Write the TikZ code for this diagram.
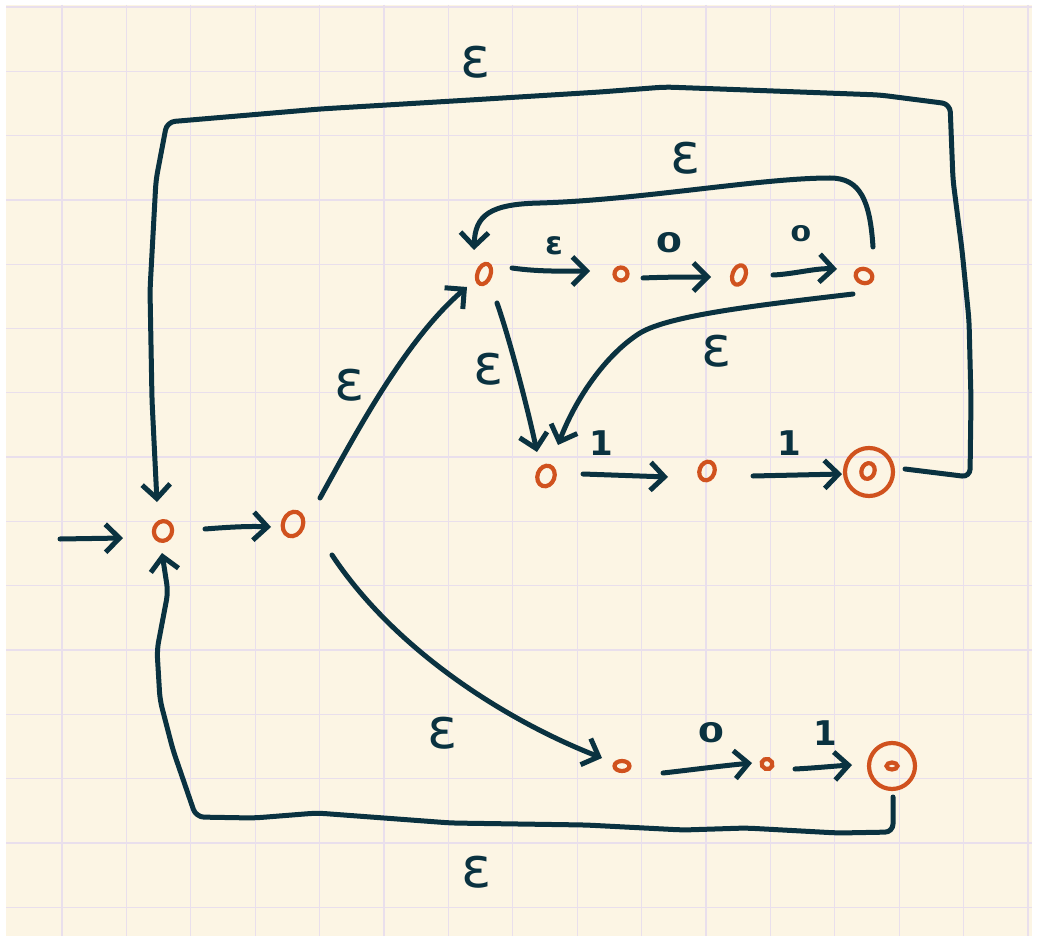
\documentclass[tikz,border=0pt]{standalone}
\usepackage{fontspec}
\newfontfamily\handfont{DejaVu Sans}
\usetikzlibrary{arrows.meta,shapes.geometric,calc}
\definecolor{paper}{RGB}{252,245,228}
\definecolor{gridc}{RGB}{233,223,236}
\definecolor{ink}{RGB}{10,50,64}
\definecolor{rust}{RGB}{208,82,30}
\begin{document}
\begin{tikzpicture}[x=1pt,y=-1pt,
  edge/.style={draw=ink, line width=5pt, line cap=round, line join=round},
  arr/.style={edge, -{Straight Barb[length=14pt,width=28pt]}},
  state/.style={ellipse, draw=rust, line width=4.2pt, inner sep=0pt, rotate=-20},
  ring/.style={circle, draw=rust, line width=4.2pt, inner sep=0pt},
  eps/.style={text=ink, inner sep=0pt, font=\handfont\fontsize{56}{56}\selectfont},
  smalleps/.style={text=ink, inner sep=0pt, font=\handfont\bfseries\fontsize{32}{32}\selectfont},
  one/.style={text=ink, inner sep=0pt, font=\handfont\bfseries\fontsize{34}{34}\selectfont},
  zero/.style={text=ink, inner sep=0pt, xscale=1.4, font=\handfont\bfseries\fontsize{27}{27}\selectfont},
]
% paper
\useasboundingbox (0,0) rectangle (1038,941);
\fill[white] (0,0) rectangle (1038,941);
\fill[paper] (6,5) rectangle (1032,936);
\foreach \i in {0,...,15} \draw[gridc, line width=1.3pt] ({62+64.4*\i},5) -- ({62+64.4*\i},936);
\foreach \j in {0,...,14} \draw[gridc, line width=1.3pt] (6,{7+64.3*\j}) -- (1032,{7+64.3*\j});

% states
\node[state, minimum width=18pt, minimum height=20pt] (q0) at (163,531) {};
\node[state, minimum width=20pt, minimum height=25pt] (q1) at (293,524) {};
\node[state, minimum width=13pt, minimum height=21pt] (q2) at (484,274) {};
\node[state, minimum width=13pt, minimum height=13pt] (q3) at (621,274) {};
\node[state, minimum width=13pt, minimum height=20pt] (q4) at (739,275) {};
\node[state, minimum width=17pt, minimum height=14pt] (q5) at (864,276) {};
\node[state, minimum width=17pt, minimum height=21pt] (q6) at (546,476) {};
\node[state, minimum width=15pt, minimum height=19pt] (q7) at (707,471) {};
\node[ring, minimum size=48pt] (q8) at (869,472) {};
\node[state, minimum width=13pt, minimum height=16pt] (q8i) at (868,471) {};
\node[state, minimum width=15pt, minimum height=10pt, rotate=20] (q9) at (622,766) {};
\node[state, minimum width=11pt, minimum height=10pt] (q10) at (767,764) {};
\node[ring, minimum size=46pt] (q11) at (892,766) {};
\node[state, minimum width=11pt, minimum height=7pt, rotate=20] (q11i) at (892,766) {};

% straight transitions
\coordinate (s) at (60,539);
\draw[arr] (s) -- ($(q0)+(-40,7)$);
\draw[arr] ($(q0)+(42,-2)$) .. controls (230,527) and (250,526) .. ($(q1)+(-22,3)$);
\draw[arr] ($(q2)+(28,-6)$) .. controls (540,272) and (565,271) .. ($(q3)+(-31,-3)$);
\draw[arr] ($(q3)+(22,4)$) .. controls (665,277) and (690,277) .. ($(q4)+(-28,2)$);
\draw[arr] ($(q4)+(34,0)$) .. controls (795,274) and (815,268) .. ($(q5)+(-27,-7)$);
\draw[arr] ($(q6)+(37,-2)$) -- ($(q7)+(-39,6)$);
\draw[arr] ($(q7)+(46,5)$) -- ($(q8)+(-27,2)$);
\draw[arr] ($(q9)+(41,7)$) .. controls (690,770) and (720,766) .. ($(q10)+(-15,-1)$);
\draw[arr] ($(q10)+(28,5)$) .. controls (815,768) and (835,766) .. ($(q11)+(-40,-1)$);

% curved transitions
\draw[arr] ($(q1)+(27,-26)$) .. controls (355,435) and (405,340) .. ($(q2)+(-17,13)$);
\draw[arr] ($(q1)+(39,31)$) .. controls (395,650) and (505,720) .. ($(q9)+(-20,-8)$);
\draw[arr] ($(q2)+(13,29)$) .. controls (510,340) and (528,410) .. ($(q6)+(-9,-24)$);
\draw[arr] ($(q5)+(-11,18)$) .. controls (760,305) and (670,315) .. (640,333)
   .. controls (605,355) and (575,400) .. ($(q6)+(12,-31)$);
\draw[arr] ($(q5)+(9,-29)$) .. controls (870,200) and (860,178) .. (830,178)
   .. controls (760,178) and (640,200) .. (540,203)
   .. controls (490,204) and (475,215) .. ($(q2)+(-10,-24)$);

% outer loops
\draw[arr, rounded corners=8pt] ($(q8)+(36,-3)$) -- (970,477) -- (971,400) -- (969,320)
   -- (962,250) -- (953,180) -- (950,104) -- (880,95) -- (800,92) -- (720,89)
   -- (665,87) -- (600,92) -- (470,100) -- (320,109) -- (167,122) -- (156,180)
   -- (150,290) -- (152,400) -- ($(q0)+(-6,-29)$);
\draw[arr, rounded corners=8pt] ($(q11)+(1,31)$) -- (893,832) -- (838,833) -- (746,828)
   -- (683,830) -- (586,825) -- (451,823) -- (317,813) -- (254,818) -- (196,817)
   -- (173,750) -- (160,700) -- (157,650) -- (168,592) -- ($(q0)+(-1,22)$);

% labels
\node[eps] (l1) at (476,62) {ε};
\node[eps] (l2) at (686,158) {ε};
\node[smalleps] (l3) at (554,246) {ε};
\node[zero] (l4) at (669,243) {0};
\node[zero, scale=0.8] (l5) at (801,234) {0};
\node[eps] (l6) at (350,385) {ε};
\node[eps] (l7) at (489,369) {ε};
\node[eps] (l8) at (717,351) {ε};
\node[one] (l9) at (601,443) {1};
\node[one] (l10) at (789,443) {1};
\node[eps] (l11) at (443,733) {ε};
\node[zero] (l12) at (711,733) {0};
\node[one] (l13) at (825,733) {1};
\node[eps] (l14) at (477,872) {ε};
\end{tikzpicture}
\end{document}
